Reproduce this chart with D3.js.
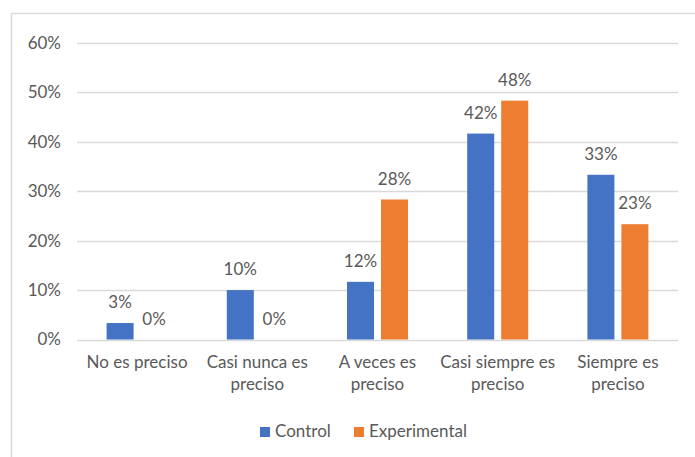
<!DOCTYPE html>
<html>
<head>
<meta charset="utf-8">
<script src="https://cdn.jsdelivr.net/npm/d3@7"></script>
<style>
  body { margin: 0; background: #fff; }
  text { font-family: "Lato", "Open Sans", sans-serif; fill: #595959; }
</style>
</head>
<body>
<svg width="695" height="457"></svg>
<script>
var width = 695;
var height = 457;
var fontSize = "17px";

// data (n = 60 per group)
var categories = [["No es preciso"], ["Casi nunca es", "preciso"], ["A veces es", "preciso"], ["Casi siempre es", "preciso"], ["Siempre es", "preciso"]];
var control = [3.33, 10, 11.67, 41.67, 33.33];
var experimental = [0, 0, 28.33, 48.33, 23.33];
var seriesNames = ["Control", "Experimental"];
var colors = ["#4472c4", "#ed7d31"];
var yTicks = [0, 10, 20, 30, 40, 50, 60];

var chart = d3.select("svg");

// chart area border (runs off right/bottom)
chart.append("rect")
    .attr("x", 11.5)
    .attr("y", 13.5)
    .attr("width", 700)
    .attr("height", 460)
    .attr("fill", "none")
    .attr("stroke", "#d9d9d9")
    .attr("stroke-width", 1.5);

var x = d3.scaleBand().domain(d3.range(categories.length)).range([77, 678]);
var y = d3.scaleLinear().domain([0, 60]).range([339.5, 43]);

// gridlines
chart.append("g").selectAll("line")
    .data(yTicks)
    .enter()
    .append("line")
    .attr("x1", 77)
    .attr("x2", 678)
    .attr("y1", function(d) { return Math.round(y(d)) + 0.5; })
    .attr("y2", function(d) { return Math.round(y(d)) + 0.5; })
    .attr("stroke", "#d9d9d9")
    .attr("stroke-width", 1.3);

// y axis labels
var yAxis = d3.axisLeft(y).tickValues(yTicks).tickSize(0).tickPadding(0)
    .tickFormat(function(d) { return d + "%"; });
var yg = chart.append("g").attr("transform", "translate(61,0)").call(yAxis);
yg.select(".domain").remove();
yg.selectAll("text").attr("font-size", fontSize).attr("fill", "#595959")
    .style("font-family", "Lato, 'Open Sans', sans-serif");

// bars
var barW = 27;
var offsets = [-17, 17];
[control, experimental].forEach(function(vals, s) {
    var g = chart.append("g");
    g.selectAll("rect")
        .data(vals)
        .enter()
        .append("rect")
        .attr("x", function(d, i) { return x(i) + x.bandwidth() / 2 + offsets[s] - barW / 2; })
        .attr("y", function(d) { return y(d); })
        .attr("width", barW)
        .attr("height", function(d) { return y(0) - y(d); })
        .attr("fill", colors[s]);
    g.selectAll("text")
        .data(vals)
        .enter()
        .append("text")
        .attr("x", function(d, i) { return x(i) + x.bandwidth() / 2 + offsets[s]; })
        .attr("y", function(d) { return y(d) - 15; })
        .attr("text-anchor", "middle")
        .attr("font-size", fontSize)
        .text(function(d) { return Math.round(d) + "%"; });
});

// category labels
var cat = chart.append("g").selectAll("text")
    .data(categories)
    .enter()
    .append("text")
    .attr("x", function(d, i) { return x(i) + x.bandwidth() / 2; })
    .attr("y", 368)
    .attr("text-anchor", "middle")
    .attr("font-size", fontSize);
cat.selectAll("tspan")
    .data(function(d) { return d; })
    .enter()
    .append("tspan")
    .attr("x", function() { return d3.select(this.parentNode).attr("x"); })
    .attr("dy", function(d, i) { return i === 0 ? 0 : 22; })
    .text(function(d) { return d; });

// legend
var legendX = [260, 354];
var legend = chart.append("g").selectAll("g")
    .data(seriesNames)
    .enter()
    .append("g")
    .attr("transform", function(d, i) { return "translate(" + legendX[i] + ",427)"; });
legend.append("rect")
    .attr("width", 10)
    .attr("height", 10)
    .attr("fill", function(d, i) { return colors[i]; });
legend.append("text")
    .attr("x", 15)
    .attr("y", 10)
    .attr("font-size", fontSize)
    .text(function(d) { return d; });
</script>
</body>
</html>
